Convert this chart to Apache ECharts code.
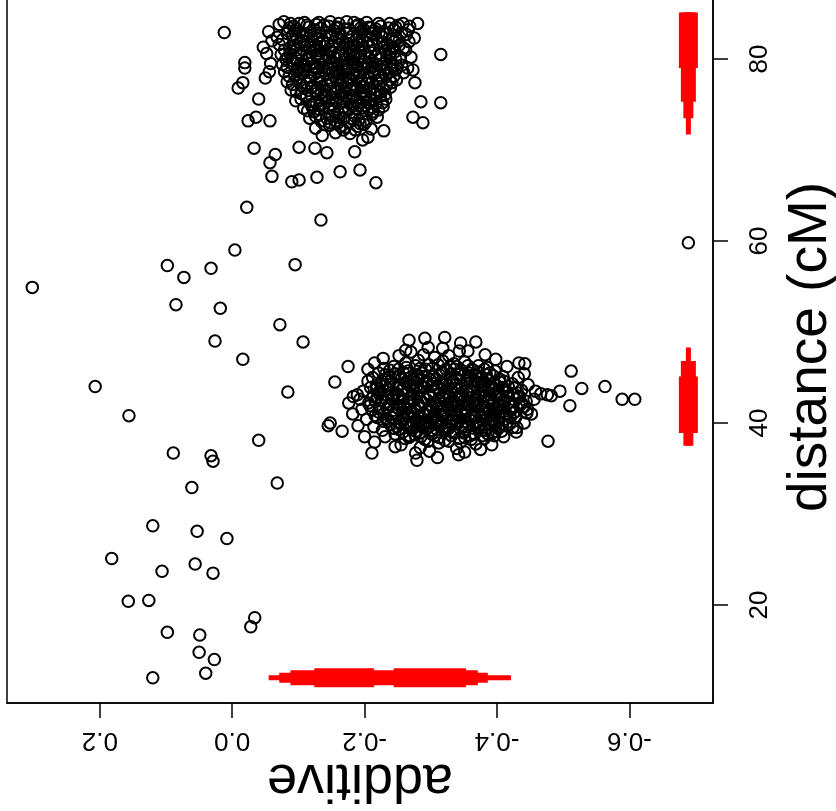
<!DOCTYPE html>
<html>
<head>
<meta charset="utf-8">
<script src="https://cdn.jsdelivr.net/npm/echarts@6/dist/echarts.min.js"></script>
<style>
html, body { margin: 0; padding: 0; background: #fff; }
#chart { width: 836px; height: 811px; }
</style>
</head>
<body>
<div id="chart"></div>
<script>
// tick marks on the two axes
var additiveTicks = [0.2, 0.0, -0.2, -0.4, -0.6];
var additiveTickLabels = ['0.2', '0.0', '-0.2', '-0.4', '-0.6'];
var distanceTicks = [20, 40, 60, 80];

// scattered single estimates [additive, distance]
var sparsePoints = [
    [0.302, 54.9], [0.073, 56.0], [0.098, 57.3], [0.032, 57.0], [-0.004, 59.0], [-0.022, 63.7],
    [-0.134, 62.3], [-0.095, 57.4], [0.085, 53.0], [0.018, 52.6], [-0.072, 50.8], [0.026, 49.0],
    [-0.107, 48.9], [-0.016, 47.0], [0.207, 44.0], [-0.084, 43.4], [0.156, 40.8], [-0.040, 38.1],
    [0.089, 36.7], [0.032, 36.4], [0.029, 35.8], [0.061, 32.9], [-0.068, 33.4], [0.120, 28.7],
    [0.053, 28.1], [0.008, 27.3], [0.182, 25.1], [0.106, 23.7], [0.056, 24.5], [0.029, 23.5],
    [0.157, 20.4], [0.126, 20.5], [-0.034, 18.6], [-0.028, 17.6], [0.098, 17.0], [0.049, 16.7],
    [0.050, 14.8], [0.027, 14.0], [0.040, 12.5], [0.120, 12.0], [-0.689, 59.8]
];

// points around the QTL near 42 cM
var lowerCluster = [
    [-0.175, 46.2], [-0.155, 44.5], [-0.148, 40.0], [-0.145, 39.7], [-0.166, 39.1], [-0.183, 42.9],
    [-0.189, 43.1], [-0.211, 36.7], [-0.279, 35.9], [-0.321, 49.4], [-0.345, 48.8], [-0.368, 48.9],
    [-0.291, 49.3], [-0.267, 49.1], [-0.512, 45.7], [-0.495, 43.5], [-0.528, 43.8], [-0.563, 44.0],
    [-0.589, 42.6], [-0.608, 42.6], [-0.510, 41.9], [-0.477, 38.0], [-0.466, 43.2], [-0.476, 43.1],
    [-0.482, 43.0], [-0.433, 46.6], [-0.442, 46.5], [-0.441, 45.4], [-0.445, 41.1], [-0.430, 39.5],
    [-0.424, 39.5], [-0.382, 47.5],
    [-0.200, 38.5], [-0.215, 37.9], [-0.190, 39.7], [-0.182, 41.0], [-0.176, 42.2], [-0.205, 45.9],
    [-0.215, 46.6], [-0.228, 47.1], [-0.252, 47.4], [-0.318, 48.2], [-0.356, 47.9], [-0.398, 47.0],
    [-0.415, 46.2], [-0.432, 45.0], [-0.447, 44.2], [-0.458, 43.5], [-0.452, 41.0], [-0.441, 40.0],
    [-0.429, 39.0], [-0.410, 38.5], [-0.392, 37.6], [-0.375, 37.1], [-0.342, 36.5], [-0.310, 36.2],
    [-0.277, 36.7], [-0.246, 37.4], [-0.262, 48.0], [-0.296, 48.3],
    [-0.262, 46.6], [-0.281, 46.9], [-0.297, 46.4], [-0.318, 46.8], [-0.335, 46.5], [-0.351, 46.7],
    [-0.244, 46.2], [-0.306, 47.2], [-0.372, 46.3], [-0.289, 47.5], [-0.327, 47.4], [-0.229, 46.0],
    [-0.385, 46.1], [-0.270, 47.8], [-0.343, 47.9],
    [-0.221, 45.5], [-0.238, 45.8], [-0.253, 45.2], [-0.266, 45.7], [-0.279, 45.3], [-0.292, 45.9],
    [-0.304, 45.1], [-0.317, 45.6], [-0.331, 45.4], [-0.346, 45.8], [-0.358, 45.2], [-0.371, 45.6],
    [-0.384, 45.3], [-0.397, 45.7], [-0.409, 45.1], [-0.212, 45.0], [-0.286, 45.5], [-0.323, 45.9],
    [-0.362, 45.9], [-0.246, 45.4],
    [-0.205, 44.6], [-0.218, 44.2], [-0.231, 44.8], [-0.243, 44.4], [-0.256, 44.9], [-0.268, 44.1],
    [-0.281, 44.7], [-0.294, 44.3], [-0.308, 44.8], [-0.319, 44.2], [-0.333, 44.6], [-0.347, 44.1],
    [-0.359, 44.9], [-0.372, 44.4], [-0.386, 44.7], [-0.398, 44.2], [-0.411, 44.6], [-0.423, 44.3],
    [-0.262, 44.5], [-0.301, 44.0], [-0.339, 44.9], [-0.377, 44.0], [-0.227, 44.0], [-0.315, 44.5],
    [-0.198, 43.5], [-0.209, 43.9], [-0.222, 43.2], [-0.235, 43.7], [-0.247, 43.3], [-0.259, 43.8],
    [-0.272, 43.1], [-0.284, 43.6], [-0.297, 43.2], [-0.309, 43.9], [-0.322, 43.4], [-0.336, 43.8],
    [-0.348, 43.1], [-0.361, 43.6], [-0.373, 43.3], [-0.387, 43.9], [-0.399, 43.4], [-0.412, 43.7],
    [-0.425, 43.2], [-0.437, 43.6], [-0.265, 43.4], [-0.291, 43.9], [-0.328, 43.0], [-0.354, 43.5],
    [-0.405, 43.0], [-0.241, 43.0],
    [-0.193, 42.6], [-0.206, 42.2], [-0.219, 42.8], [-0.231, 42.3], [-0.244, 42.9], [-0.256, 42.4],
    [-0.268, 42.7], [-0.281, 42.1], [-0.293, 42.6], [-0.306, 42.2], [-0.318, 42.8], [-0.331, 42.3],
    [-0.343, 42.7], [-0.356, 42.1], [-0.368, 42.5], [-0.381, 42.9], [-0.393, 42.2], [-0.406, 42.6],
    [-0.418, 42.3], [-0.431, 42.8], [-0.444, 42.4], [-0.275, 42.5], [-0.312, 42.5], [-0.349, 42.4],
    [-0.387, 42.5], [-0.226, 42.5], [-0.456, 42.6],
    [-0.196, 41.5], [-0.208, 41.9], [-0.221, 41.2], [-0.234, 41.6], [-0.246, 41.1], [-0.259, 41.8],
    [-0.271, 41.3], [-0.284, 41.7], [-0.296, 41.2], [-0.309, 41.6], [-0.321, 41.1], [-0.334, 41.8],
    [-0.346, 41.4], [-0.359, 41.9], [-0.371, 41.2], [-0.384, 41.7], [-0.396, 41.3], [-0.409, 41.8],
    [-0.421, 41.4], [-0.434, 41.9], [-0.446, 41.5], [-0.263, 41.5], [-0.302, 41.9], [-0.339, 41.0],
    [-0.377, 41.5], [-0.414, 41.0],
    [-0.203, 40.4], [-0.216, 40.8], [-0.228, 40.2], [-0.241, 40.6], [-0.253, 40.1], [-0.266, 40.7],
    [-0.278, 40.3], [-0.291, 40.9], [-0.303, 40.4], [-0.316, 40.8], [-0.328, 40.2], [-0.341, 40.6],
    [-0.353, 40.1], [-0.366, 40.7], [-0.378, 40.3], [-0.391, 40.9], [-0.403, 40.5], [-0.416, 40.1],
    [-0.428, 40.6], [-0.285, 40.5], [-0.323, 40.5], [-0.359, 40.4], [-0.247, 40.9], [-0.397, 40.0],
    [-0.214, 39.6], [-0.227, 39.2], [-0.239, 39.8], [-0.252, 39.3], [-0.264, 39.7], [-0.277, 39.1],
    [-0.289, 39.6], [-0.302, 39.2], [-0.314, 39.8], [-0.327, 39.4], [-0.339, 39.9], [-0.352, 39.3],
    [-0.364, 39.7], [-0.377, 39.2], [-0.389, 39.8], [-0.402, 39.4], [-0.414, 39.7], [-0.296, 39.5],
    [-0.333, 39.0], [-0.371, 39.5], [-0.258, 39.0],
    [-0.231, 38.5], [-0.246, 38.8], [-0.261, 38.3], [-0.276, 38.7], [-0.291, 38.2], [-0.306, 38.6],
    [-0.321, 38.1], [-0.336, 38.9], [-0.351, 38.4], [-0.366, 38.8], [-0.381, 38.3], [-0.396, 38.6],
    [-0.313, 38.4], [-0.283, 38.9],
    [-0.255, 37.6], [-0.284, 37.3], [-0.312, 37.8], [-0.339, 37.2], [-0.368, 37.7], [-0.298, 36.9],
    [-0.351, 36.8],
    [-0.249, 44.0], [-0.273, 43.5], [-0.299, 42.9], [-0.325, 42.0], [-0.351, 41.6], [-0.376, 40.8],
    [-0.401, 42.0], [-0.288, 41.0], [-0.262, 40.0], [-0.237, 42.0], [-0.313, 43.3], [-0.338, 44.3],
    [-0.364, 43.9], [-0.389, 43.1], [-0.415, 42.9], [-0.279, 44.0], [-0.252, 42.7], [-0.229, 41.0],
    [-0.307, 40.0], [-0.332, 40.9], [-0.357, 39.9], [-0.383, 41.0], [-0.408, 39.9], [-0.294, 44.6],
    [-0.269, 45.0], [-0.342, 45.3], [-0.367, 44.6], [-0.392, 44.0], [-0.318, 41.4], [-0.344, 42.9],
    [-0.369, 42.0], [-0.394, 41.0], [-0.285, 39.9], [-0.259, 41.2], [-0.233, 43.1], [-0.325, 39.6],
    [-0.350, 38.9], [-0.375, 39.9], [-0.400, 41.5], [-0.420, 40.6],
    [-0.224, 44.3], [-0.236, 45.1], [-0.251, 45.9], [-0.263, 46.1], [-0.277, 46.3], [-0.302, 46.0],
    [-0.329, 46.2], [-0.356, 46.3], [-0.368, 45.3], [-0.381, 45.9], [-0.394, 45.2], [-0.404, 44.5],
    [-0.417, 44.0], [-0.428, 43.9], [-0.434, 42.9], [-0.441, 41.8], [-0.425, 41.1], [-0.419, 39.9],
    [-0.407, 39.1], [-0.393, 38.9], [-0.378, 38.6], [-0.361, 38.2], [-0.345, 37.9], [-0.327, 38.0],
    [-0.296, 38.0], [-0.268, 38.6], [-0.249, 39.6], [-0.236, 40.2], [-0.219, 40.6], [-0.211, 41.4],
    [-0.213, 42.9], [-0.218, 43.8],
    [-0.256, 43.6], [-0.268, 42.2], [-0.282, 40.7], [-0.297, 41.5], [-0.311, 43.7], [-0.326, 44.1],
    [-0.339, 42.6], [-0.352, 40.8], [-0.366, 41.9], [-0.379, 43.6], [-0.391, 42.7], [-0.404, 41.2],
    [-0.274, 44.8], [-0.287, 42.3], [-0.303, 40.6], [-0.317, 39.9], [-0.331, 41.3], [-0.345, 43.2],
    [-0.359, 44.4], [-0.372, 43.0], [-0.385, 40.5], [-0.398, 39.7], [-0.244, 41.4], [-0.258, 40.5],
    [-0.271, 39.5], [-0.285, 38.5], [-0.299, 44.8], [-0.313, 45.3], [-0.327, 42.9], [-0.341, 41.9],
    [-0.355, 44.8], [-0.369, 40.0], [-0.382, 44.3], [-0.395, 43.7], [-0.409, 42.4], [-0.422, 41.8],
    [-0.239, 44.6], [-0.252, 41.9], [-0.266, 41.0], [-0.279, 42.9], [-0.292, 40.2], [-0.306, 41.0],
    [-0.320, 43.0], [-0.334, 40.3], [-0.348, 39.6], [-0.362, 42.8], [-0.376, 44.9], [-0.389, 41.4],
    [-0.403, 43.3], [-0.416, 43.4], [-0.289, 45.1], [-0.323, 44.8], [-0.357, 45.5], [-0.336, 45.9],
    [-0.309, 39.3], [-0.273, 40.1], [-0.343, 38.3], [-0.383, 39.2],
    [-0.231, 45.3], [-0.259, 45.5], [-0.284, 46.0], [-0.311, 46.4], [-0.339, 46.2], [-0.364, 45.8],
    [-0.389, 45.5], [-0.226, 44.6], [-0.253, 44.2], [-0.276, 44.4], [-0.304, 44.3], [-0.329, 44.3],
    [-0.353, 44.6], [-0.379, 44.5], [-0.404, 44.8], [-0.223, 43.5], [-0.251, 43.1], [-0.278, 43.8],
    [-0.303, 43.5], [-0.331, 43.6], [-0.357, 43.2], [-0.383, 43.5], [-0.408, 43.9], [-0.431, 43.3],
    [-0.216, 42.4], [-0.241, 42.6], [-0.266, 42.3], [-0.289, 42.8], [-0.315, 42.2], [-0.337, 42.2],
    [-0.362, 42.3], [-0.385, 42.3], [-0.411, 42.2], [-0.437, 42.2], [-0.223, 41.6], [-0.249, 41.7],
    [-0.276, 41.6], [-0.299, 41.3], [-0.326, 41.6], [-0.352, 41.2], [-0.379, 41.8], [-0.402, 41.6],
    [-0.427, 41.2], [-0.232, 40.5], [-0.258, 40.8], [-0.282, 40.2], [-0.311, 40.3], [-0.337, 40.1],
    [-0.362, 40.6], [-0.388, 40.3], [-0.411, 40.4], [-0.245, 39.4], [-0.271, 39.8], [-0.299, 39.7],
    [-0.321, 39.1], [-0.346, 39.8], [-0.373, 39.5], [-0.398, 39.1], [-0.267, 38.4], [-0.301, 38.8],
    [-0.331, 38.6], [-0.359, 38.6], [-0.386, 38.8]
];

// points around the QTL near 80 cM
var upperCluster = [
    [0.012, 82.9], [-0.019, 79.6], [-0.019, 79.0], [-0.016, 77.4], [-0.009, 76.8], [-0.040, 75.6],
    [-0.036, 73.6], [-0.024, 73.2], [-0.057, 73.2], [-0.033, 70.2], [-0.065, 69.5], [-0.057, 68.6],
    [-0.060, 67.1], [-0.315, 80.5], [-0.315, 75.2], [-0.267, 81.9], [-0.273, 78.8], [-0.276, 77.4],
    [-0.285, 75.3], [-0.288, 73.0], [-0.273, 73.6], [-0.229, 72.1], [-0.217, 66.4], [-0.193, 67.8],
    [-0.185, 69.8], [-0.163, 67.6], [-0.128, 67.0], [-0.101, 66.7], [-0.090, 66.5], [-0.101, 70.3],
    [-0.125, 70.2], [-0.143, 69.7], [-0.205, 71.4], [-0.197, 71.1], [-0.050, 77.9], [-0.056, 78.6],
    [-0.047, 81.3],
    [-0.055, 83.0], [-0.060, 82.0], [-0.052, 80.6], [-0.058, 79.5], [-0.268, 83.6], [-0.275, 82.3],
    [-0.262, 81.0], [-0.270, 80.2], [-0.280, 83.9], [-0.265, 79.0],
    [-0.071, 83.8], [-0.086, 83.4], [-0.101, 83.9], [-0.116, 83.5], [-0.131, 84.0], [-0.146, 83.6],
    [-0.161, 83.9], [-0.176, 83.3], [-0.191, 83.8], [-0.206, 83.5], [-0.221, 83.9], [-0.236, 83.4],
    [-0.251, 83.7], [-0.094, 83.1], [-0.124, 83.2], [-0.154, 83.1], [-0.184, 84.0], [-0.214, 83.1],
    [-0.266, 83.2], [-0.078, 84.1],
    [-0.068, 82.4], [-0.083, 82.8], [-0.098, 82.2], [-0.113, 82.7], [-0.128, 82.3], [-0.143, 82.9],
    [-0.158, 82.4], [-0.173, 82.8], [-0.188, 82.1], [-0.203, 82.6], [-0.218, 82.2], [-0.233, 82.8],
    [-0.248, 82.3], [-0.263, 82.7], [-0.106, 82.5], [-0.137, 82.0], [-0.166, 82.1], [-0.196, 82.9],
    [-0.226, 82.5],
    [-0.071, 81.6], [-0.087, 81.2], [-0.102, 81.8], [-0.117, 81.3], [-0.132, 81.7], [-0.147, 81.1],
    [-0.162, 81.6], [-0.177, 81.2], [-0.192, 81.9], [-0.207, 81.4], [-0.222, 81.8], [-0.237, 81.1],
    [-0.252, 81.5], [-0.095, 81.5], [-0.125, 81.0], [-0.155, 81.9], [-0.185, 81.5], [-0.215, 81.0],
    [-0.244, 81.9],
    [-0.074, 80.5], [-0.089, 80.9], [-0.104, 80.3], [-0.119, 80.7], [-0.134, 80.2], [-0.149, 80.8],
    [-0.164, 80.4], [-0.179, 80.9], [-0.194, 80.3], [-0.209, 80.7], [-0.224, 80.1], [-0.239, 80.6],
    [-0.254, 80.2], [-0.112, 80.0], [-0.142, 80.5], [-0.171, 80.0], [-0.201, 80.5], [-0.231, 80.9],
    [-0.096, 80.1],
    [-0.076, 79.4], [-0.091, 79.8], [-0.106, 79.2], [-0.121, 79.6], [-0.136, 79.1], [-0.151, 79.7],
    [-0.166, 79.3], [-0.181, 79.9], [-0.196, 79.4], [-0.211, 79.8], [-0.226, 79.2], [-0.241, 79.6],
    [-0.256, 79.3], [-0.114, 79.9], [-0.144, 79.0], [-0.174, 79.5], [-0.204, 79.0], [-0.233, 79.9],
    [-0.099, 79.0],
    [-0.079, 78.6], [-0.094, 78.2], [-0.109, 78.8], [-0.124, 78.3], [-0.139, 78.7], [-0.154, 78.1],
    [-0.169, 78.6], [-0.184, 78.2], [-0.199, 78.9], [-0.214, 78.4], [-0.229, 78.8], [-0.244, 78.1],
    [-0.259, 78.5], [-0.117, 78.0], [-0.147, 78.9], [-0.177, 78.0], [-0.206, 78.0], [-0.236, 78.5],
    [-0.083, 77.5], [-0.098, 77.9], [-0.113, 77.3], [-0.128, 77.7], [-0.143, 77.2], [-0.158, 77.8],
    [-0.173, 77.4], [-0.188, 77.9], [-0.203, 77.3], [-0.218, 77.6], [-0.233, 77.1], [-0.248, 77.7],
    [-0.136, 77.0], [-0.166, 77.5], [-0.196, 77.0], [-0.226, 77.9],
    [-0.089, 76.6], [-0.104, 76.2], [-0.119, 76.8], [-0.134, 76.3], [-0.149, 76.7], [-0.164, 76.1],
    [-0.179, 76.6], [-0.194, 76.2], [-0.209, 76.8], [-0.224, 76.4], [-0.239, 76.9], [-0.141, 76.0],
    [-0.171, 76.9], [-0.201, 76.0], [-0.112, 76.0],
    [-0.096, 75.4], [-0.112, 75.8], [-0.127, 75.2], [-0.142, 75.7], [-0.157, 75.3], [-0.172, 75.9],
    [-0.187, 75.4], [-0.202, 75.8], [-0.217, 75.1], [-0.232, 75.6], [-0.149, 75.0], [-0.179, 75.0],
    [-0.209, 75.5],
    [-0.108, 74.6], [-0.123, 74.2], [-0.138, 74.8], [-0.153, 74.3], [-0.168, 74.7], [-0.183, 74.1],
    [-0.198, 74.6], [-0.213, 74.2], [-0.228, 74.8], [-0.161, 74.0], [-0.191, 74.9],
    [-0.117, 73.5], [-0.134, 73.2], [-0.151, 73.8], [-0.168, 73.4], [-0.185, 73.7], [-0.202, 73.1],
    [-0.219, 73.6], [-0.159, 72.9],
    [-0.126, 72.4], [-0.147, 72.7], [-0.168, 72.2], [-0.189, 72.6], [-0.210, 72.3], [-0.178, 71.8],
    [-0.136, 71.6],
    [-0.093, 83.6], [-0.118, 82.9], [-0.139, 83.7], [-0.169, 83.3], [-0.199, 83.2], [-0.229, 83.0],
    [-0.109, 81.6], [-0.139, 81.4], [-0.169, 81.3], [-0.199, 81.2], [-0.229, 81.3], [-0.081, 80.0],
    [-0.127, 80.4], [-0.157, 80.1], [-0.187, 80.6], [-0.217, 80.3], [-0.247, 80.0], [-0.103, 79.5],
    [-0.133, 79.4], [-0.159, 79.0], [-0.189, 79.2], [-0.219, 79.4], [-0.249, 79.0], [-0.104, 78.5],
    [-0.132, 78.0], [-0.162, 78.4], [-0.192, 78.5], [-0.221, 78.2], [-0.105, 77.1], [-0.121, 77.0],
    [-0.151, 77.4], [-0.181, 77.2], [-0.211, 77.4], [-0.241, 77.4], [-0.126, 76.5], [-0.156, 76.4],
    [-0.186, 76.5], [-0.216, 76.1], [-0.134, 75.5], [-0.164, 75.6], [-0.194, 75.2], [-0.224, 75.9],
    [-0.131, 74.5], [-0.176, 74.4], [-0.206, 74.5], [-0.143, 73.5], [-0.176, 73.0], [-0.193, 72.9],
    [-0.084, 83.1], [-0.109, 84.0], [-0.134, 83.4], [-0.159, 83.5], [-0.194, 83.4], [-0.224, 83.6],
    [-0.244, 83.2], [-0.258, 83.9], [-0.076, 82.1], [-0.091, 82.6], [-0.121, 82.1], [-0.151, 82.6],
    [-0.181, 82.5], [-0.211, 82.8], [-0.241, 82.1], [-0.256, 82.9], [-0.079, 81.0], [-0.097, 81.0],
    [-0.114, 81.9], [-0.144, 81.7], [-0.174, 81.7], [-0.204, 81.8], [-0.234, 81.5], [-0.259, 81.2],
    [-0.084, 80.2], [-0.101, 80.6], [-0.131, 80.9], [-0.161, 80.7], [-0.191, 80.1], [-0.221, 80.6],
    [-0.246, 80.8], [-0.083, 79.1], [-0.111, 79.3], [-0.141, 79.8], [-0.171, 79.1], [-0.199, 79.7],
    [-0.229, 79.5], [-0.086, 78.1], [-0.101, 78.9], [-0.131, 78.6], [-0.157, 78.6], [-0.187, 78.8],
    [-0.217, 78.9], [-0.247, 78.8], [-0.091, 77.2], [-0.118, 77.6], [-0.148, 77.7], [-0.178, 77.6],
    [-0.208, 77.8], [-0.238, 77.7], [-0.097, 76.4], [-0.129, 76.8], [-0.159, 76.8], [-0.189, 76.8],
    [-0.219, 76.6], [-0.231, 76.1], [-0.104, 75.6], [-0.119, 75.0], [-0.139, 75.9], [-0.169, 75.3],
    [-0.197, 75.6], [-0.227, 75.2], [-0.114, 74.3], [-0.146, 74.6], [-0.171, 74.2], [-0.201, 74.9],
    [-0.221, 74.4], [-0.126, 73.7], [-0.156, 73.2], [-0.181, 73.4], [-0.211, 73.9], [-0.139, 72.8],
    [-0.163, 72.6], [-0.199, 72.8], [-0.156, 71.9], [-0.186, 72.2],
    [-0.088, 83.9], [-0.148, 84.1], [-0.173, 84.1], [-0.203, 84.0], [-0.238, 83.9], [-0.113, 83.7],
    [-0.163, 82.8], [-0.209, 83.4], [-0.126, 81.5], [-0.196, 81.6], [-0.153, 80.3], [-0.183, 80.2],
    [-0.211, 79.1], [-0.126, 79.1], [-0.142, 78.3], [-0.172, 78.9], [-0.195, 77.7], [-0.163, 77.1],
    [-0.127, 76.2], [-0.198, 76.5], [-0.153, 75.8], [-0.184, 75.9], [-0.133, 74.9], [-0.188, 74.6],
    [-0.097, 83.3], [-0.127, 83.8], [-0.157, 83.4], [-0.187, 83.6], [-0.217, 83.3], [-0.247, 83.5],
    [-0.102, 82.9], [-0.132, 82.6], [-0.162, 82.2], [-0.192, 82.4], [-0.222, 82.9], [-0.252, 82.0],
    [-0.107, 82.0], [-0.137, 81.9], [-0.167, 81.8], [-0.197, 82.0], [-0.227, 81.7], [-0.092, 81.3],
    [-0.122, 81.3], [-0.152, 81.5], [-0.182, 81.0], [-0.212, 81.5], [-0.242, 81.3], [-0.087, 80.6],
    [-0.117, 80.3], [-0.147, 80.2], [-0.177, 80.6], [-0.207, 80.1], [-0.237, 80.3], [-0.092, 79.5],
    [-0.122, 79.1], [-0.152, 79.4], [-0.182, 79.6], [-0.212, 79.2], [-0.242, 79.2], [-0.097, 78.6],
    [-0.127, 78.9], [-0.152, 78.5], [-0.182, 78.5], [-0.212, 78.7], [-0.239, 78.9], [-0.102, 77.6],
    [-0.132, 77.4], [-0.162, 77.7], [-0.192, 77.4], [-0.222, 77.3], [-0.109, 76.8], [-0.139, 76.6],
    [-0.169, 76.4], [-0.199, 76.9], [-0.229, 76.7], [-0.116, 75.3], [-0.146, 75.4], [-0.176, 75.7],
    [-0.206, 75.2], [-0.121, 74.7], [-0.151, 74.9], [-0.181, 74.9], [-0.211, 74.7], [-0.131, 73.9],
    [-0.161, 73.6], [-0.191, 73.3], [-0.148, 73.0], [-0.171, 72.5]
];

// interval bars: [from, to, level]  (level 0 = outermost, thinnest)
var bottomBarDistance = 12.0;
var bottomBarSegments = [
    [-0.055, -0.421, 0], [-0.071, -0.386, 1], [-0.088, -0.371, 2],
    [-0.124, -0.214, 3], [-0.244, -0.353, 3]
];
var sideBarAdditive = -0.689;
var middleBarSegments = [[37.5, 48.3, 0], [37.5, 46.8, 1], [38.9, 46.8, 2], [38.9, 45.1, 3]];
var topBarSegments = [[71.7, 85.1, 0], [73.5, 85.1, 1], [75.3, 85.1, 2], [79.0, 85.1, 3]];

var levelWidth = [5, 10, 15, 19];
var font = 'Liberation Sans, Arial, sans-serif';

var chart = echarts.init(document.getElementById('chart'));

function pointSeries(data) {
    return {
        type: 'scatter',
        data: data,
        symbol: 'circle',
        symbolSize: 11.5,
        itemStyle: { color: 'rgba(0,0,0,0)', borderColor: '#000', borderWidth: 2, opacity: 1 },
        emphasis: { disabled: true },
        silent: true
    };
}

function barSeries(segs, vertical, at) {
    return segs.map(function(s) {
        var data = vertical ? [[at, s[0]], [at, s[1]]] : [[s[0], at], [s[1], at]];
        return {
            type: 'line',
            data: data,
            symbol: 'none',
            silent: true,
            lineStyle: { color: '#ff0000', width: levelWidth[s[2]], cap: 'butt' }
        };
    });
}

var series = [pointSeries(sparsePoints), pointSeries(lowerCluster), pointSeries(upperCluster)]
    .concat(barSeries(bottomBarSegments, false, bottomBarDistance))
    .concat(barSeries(middleBarSegments, true, sideBarAdditive))
    .concat(barSeries(topBarSegments, true, sideBarAdditive));

var option = {
    animation: false,
    backgroundColor: '#fff',
    grid: {
        left: 7, right: 123, top: -9, bottom: 108,
        outerBoundsMode: 'none',
        containLabel: false,
        show: true, borderColor: '#000', borderWidth: 1.5, backgroundColor: 'transparent'
    },
    xAxis: {
        type: 'value',
        inverse: true,
        min: -0.7262,
        max: 0.3402,
        splitLine: { show: false },
        axisLine: { show: true, onZero: false, lineStyle: { color: '#000', width: 1.5 } },
        axisTick: { show: true, length: 15, customValues: additiveTicks, lineStyle: { color: '#000', width: 1.5 } },
        axisLabel: {
            customValues: additiveTicks,
            rotate: 180,
            margin: 24,
            fontSize: 26,
            fontFamily: font,
            color: '#000',
            formatter: function(v) {
                var i = additiveTicks.findIndex(function(t) { return Math.abs(t - v) < 1e-6; });
                return i >= 0 ? additiveTickLabels[i] : '';
            }
        },
        name: 'additive',
        nameLocation: 'middle',
        nameRotate: 180,
        nameGap: 50,
        nameMoveOverlap: false,
        nameTextStyle: { fontSize: 54, fontFamily: font, color: '#000' }
    },
    yAxis: {
        type: 'value',
        position: 'right',
        min: 9.23,
        max: 87.47,
        splitLine: { show: false },
        axisLine: { show: true, onZero: false, lineStyle: { color: '#000', width: 1.5 } },
        axisTick: { show: true, length: 15, customValues: distanceTicks, lineStyle: { color: '#000', width: 1.5 } },
        axisLabel: {
            customValues: distanceTicks,
            rotate: 90,
            margin: 34,
            fontSize: 26,
            fontFamily: font,
            color: '#000'
        },
        name: 'distance (cM)',
        nameLocation: 'middle',
        nameRotate: 90,
        nameGap: 70,
        nameTextStyle: { fontSize: 55, fontFamily: font, color: '#000' }
    },
    series: series
};

chart.setOption(option);
</script>
</body>
</html>
